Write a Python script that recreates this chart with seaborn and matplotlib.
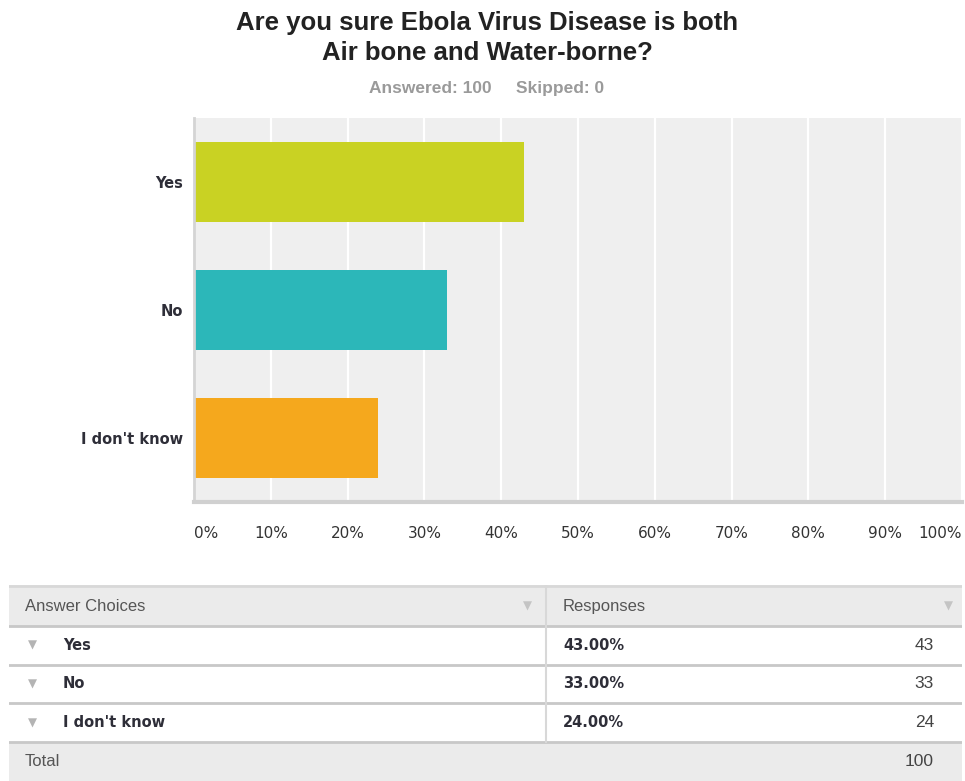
import matplotlib
matplotlib.use("Agg")
import matplotlib.pyplot as plt
import seaborn as sns

# survey data
choices = ["Yes", "No", "I don't know"]
percents = [43.0, 33.0, 24.0]
counts = [43, 33, 24]
bar_colors = ["#c9d223", "#2cb7b9", "#f5a81d"]
x_ticks = [0, 10, 20, 30, 40, 50, 60, 70, 80, 90, 100]
x_tick_labels = [f"{t}%" for t in x_ticks]
title = "Are you sure Ebola Virus Disease is both\nAir bone and Water-borne?"
answered = 100
skipped = 0

W, H = 965, 781
fig = plt.figure(figsize=(W / 100, H / 100), dpi=100)
fig.patch.set_facecolor("white")


def fx(px):
    return px / W


def fy(py):
    return 1 - py / H


# bar chart
ax = fig.add_axes([fx(194), fy(502), fx(962 - 194), (502 - 118) / H])
sns.barplot(x=percents, y=choices, hue=choices, palette=bar_colors,
            legend=False, width=0.625, saturation=1, orient="h", ax=ax)
ax.set_facecolor("#efefef")
ax.set_xlim(0, 100)
ax.set_ylim(2.5, -0.5)
ax.set_xticks(x_ticks)
ax.set_xticklabels(x_tick_labels, fontsize=11, color="#333333")
ax.set_yticks(range(len(choices)))
ax.set_yticklabels(choices, fontsize=10.5, fontweight="bold", color="#2e2e38")
ax.tick_params(axis="x", length=0, pad=17)
ax.tick_params(axis="y", length=0, pad=8)
labels = ax.get_xticklabels()
labels[0].set_ha("left")
labels[-1].set_ha("right")
ax.grid(axis="x", color="white", lw=1.6)
ax.set_axisbelow(True)
for s in ["top", "right"]:
    ax.spines[s].set_visible(False)
ax.spines["left"].set_color("#d4d4d4")
ax.spines["left"].set_linewidth(2)
ax.spines["bottom"].set_color("#d0d0d0")
ax.spines["bottom"].set_linewidth(3)
ax.set_xlabel("")
ax.set_ylabel("")

# titles
fig.text(fx(487), fy(38), title, ha="center", va="center", fontsize=18.5,
         fontweight="bold", family="Liberation Sans", color="#222222",
         linespacing=1.3)
fig.text(fx(487), fy(88), f"Answered: {answered}     Skipped: {skipped}",
         ha="center", va="center", fontsize=12.5, fontweight="bold",
         family="Liberation Sans", color="#9a9a9a")

# response table
tab = fig.add_axes([fx(9), 0, fx(962 - 9), (H - 585) / H])
tab.set_xlim(9, 962)
tab.set_ylim(5, -0.05)
tab.axis("off")
n = len(choices)
tab.axhspan(-0.05, 1, color="#ebebeb", lw=0)
tab.axhspan(n + 1, n + 2, color="#ebebeb", lw=0)
tab.axhline(-0.03, color="#d8d8d8", lw=2)
for r in range(1, n + 2):
    tab.axhline(r, color="#c8c8c8", lw=2)
tab.plot([546, 546], [-0.05, n + 1], color="#d8d8d8", lw=1.5)

tab.text(25, 0.5, "Answer Choices", ha="left", va="center", fontsize=12,
         family="Liberation Sans", color="#555555")
tab.text(563, 0.5, "Responses", ha="left", va="center", fontsize=12,
         family="Liberation Sans", color="#555555")
tab.text(527, 0.5, "\u25bc", ha="center", va="center", fontsize=8.5, color="#c4c4c4")
tab.text(948, 0.5, "\u25bc", ha="center", va="center", fontsize=8.5, color="#c4c4c4")

for i, (c, p, k) in enumerate(zip(choices, percents, counts)):
    r = i + 1.5
    tab.text(32, r, "\u25bc", ha="center", va="center", fontsize=8.5, color="#b4b4b4")
    tab.text(63, r, c, ha="left", va="center", fontsize=10.5,
             fontweight="bold", color="#2e2e38")
    tab.text(563, r, f"{p:.2f}%", ha="left", va="center", fontsize=10.5,
             fontweight="bold", color="#2e2e38")
    tab.text(934, r, str(k), ha="right", va="center", fontsize=12.5,
             family="Liberation Sans", color="#444444")

tab.text(25, n + 1.5, "Total", ha="left", va="center", fontsize=12,
         family="Liberation Sans", color="#555555")
tab.text(934, n + 1.5, str(sum(counts)), ha="right", va="center",
         fontsize=12.5, family="Liberation Sans", color="#444444")

fig.savefig("out.png", dpi=100)
